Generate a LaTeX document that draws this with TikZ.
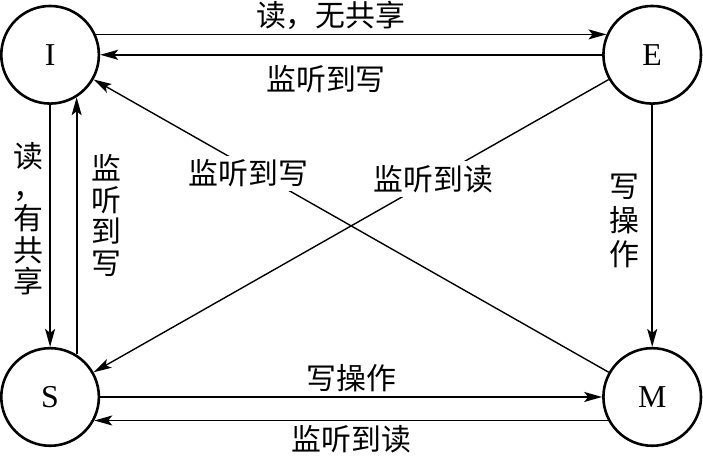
\documentclass[tikz,border=0pt]{standalone}
\usepackage{fontspec}
\setmainfont{Liberation Serif}
\newfontfamily\cjk{Noto Sans CJK SC}
\usetikzlibrary{arrows.meta, positioning}

\begin{document}
\begin{tikzpicture}[
    state/.style={circle, draw, line width=1.3pt, minimum size=49pt, inner sep=0pt,
        font=\fontsize{16pt}{18pt}\selectfont},
    flow/.style={-{Stealth[length=9pt, width=5pt, inset=2pt]}, line width=0.9pt},
    lbl/.style={font=\cjk\fontsize{15pt}{15.8pt}\selectfont, inner sep=2pt},
    vlbl/.style={lbl, align=center},
]

% 状态
\node[state] (I) {I};
\node[state, right=252pt of I] (E) {E};
\node[state, below=121.5pt of I] (S) {S};
\node[state, right=252pt of S] (M) {M};

\useasboundingbox ([xshift=-25pt, yshift=27.5pt]I.center)
    rectangle ([xshift=25.5pt, yshift=-29.5pt]M.center);

% 上
\draw[flow] (I.24) -- node[lbl, above, pos=0.46] {读，无共享} (E.156);
\draw[flow] (E.west) -- node[lbl, below=3pt, pos=0.55] {监听到写} (I.east);

% 左
\draw[flow] (I.south) -- node[vlbl, left=1pt, pos=0.47] {读\\，\\有\\共\\享} (S.north);
\draw[flow] (S.58) -- node[vlbl, right=5pt, pos=0.54] {监\\听\\到\\写} (I.-58);

% 右
\draw[flow] (E.south) -- node[vlbl, left=4pt, pos=0.48,
    font=\cjk\fontsize{15pt}{17pt}\selectfont] {写\\操\\作} (M.north);

% 下
\draw[flow] (S.east) -- node[lbl, above] {写操作} (M.west);
\draw[flow] (M.208) -- node[lbl, below] {监听到读} (S.-28);

% 对角
\draw[flow, line width=0.7pt] (M) -- node[lbl, fill=white, pos=0.7, yshift=-3pt] {监听到写} (I);
\draw[flow, line width=0.7pt] (E) -- node[lbl, fill=white, pos=0.34] {监听到读} (S);

\end{tikzpicture}
\end{document}
